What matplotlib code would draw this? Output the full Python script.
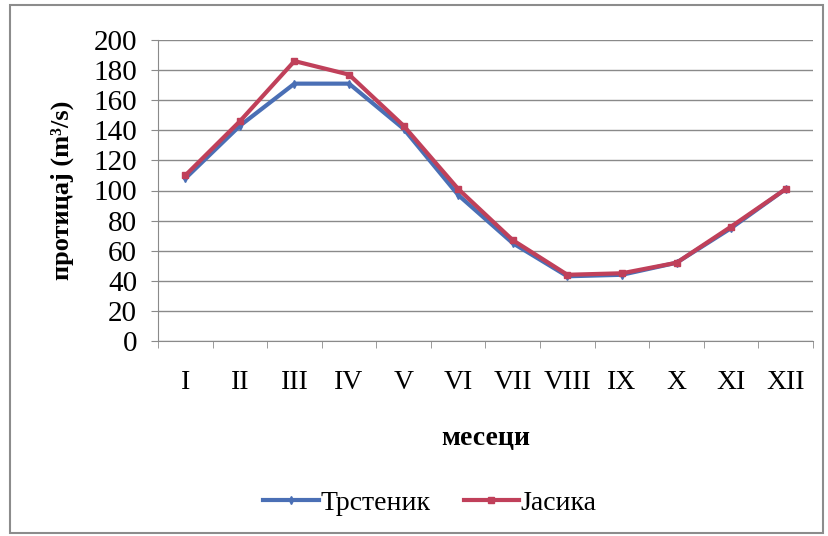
import matplotlib.pyplot as plt
import numpy as np
from matplotlib.patches import Rectangle

months = ["I", "II", "III", "IV", "V", "VI", "VII", "VIII", "IX", "X", "XI", "XII"]
trstenik = [108, 143, 171, 171, 141, 97, 65, 43, 44, 52, 75, 101]
jasika = [110, 146, 186, 177, 143, 101, 67, 44, 45, 52, 76, 101]

plt.rcParams['font.family'] = ['Liberation Serif', 'DejaVu Serif']

fig = plt.figure(figsize=(8.29, 5.36), dpi=100)
ax = fig.add_axes([158/829, 1 - 341/536, 655/829, 301/536])

# outer frame like the excel chart area
fig.patches.append(Rectangle((10/829, 3/536), 813/829, 528/536, transform=fig.transFigure,
                             fill=False, edgecolor="#8c8c8c", linewidth=1.5))

x = np.arange(len(months))
ax.plot(x, trstenik, color="#4a6fb5", linewidth=3, marker="d", markersize=4, label="Трстеник")
ax.plot(x, jasika, color="#c0405a", linewidth=3, marker="s", markersize=4, label="Јасика")

ax.set_xlim(-0.5, 11.5)
ax.set_ylim(0, 200)
ax.set_yticks(range(0, 201, 20))
ax.yaxis.grid(True, color="#8a8a8a", linewidth=1)
ax.set_axisbelow(True)
ax.set_xticks(x)
ax.set_xticklabels(months, fontsize=20)
ax.set_xticks(np.arange(-0.5, 12, 1), minor=True)
ax.tick_params(axis="x", which="major", length=0, pad=21)
ax.tick_params(axis="x", which="minor", length=5, color="#8a8a8a")
ax.tick_params(axis="y", labelsize=21, length=5, color="#8a8a8a", pad=10)

for s in ["top", "right"]:
    ax.spines[s].set_visible(False)
ax.spines["left"].set_color("#8a8a8a")
ax.spines["bottom"].set_color("#8a8a8a")

ax.set_ylabel("протицај (m³/s)", fontsize=19, fontweight="bold", labelpad=14)
ax.set_xlabel("месеци", fontsize=20, fontweight="bold", labelpad=22)

fig.legend(loc="center", bbox_to_anchor=(430/829, 1 - 503/536), ncol=2, frameon=False,
           fontsize=20, handlelength=2, columnspacing=1.2, handletextpad=0.05)

fig.savefig("out.png", dpi=100)
